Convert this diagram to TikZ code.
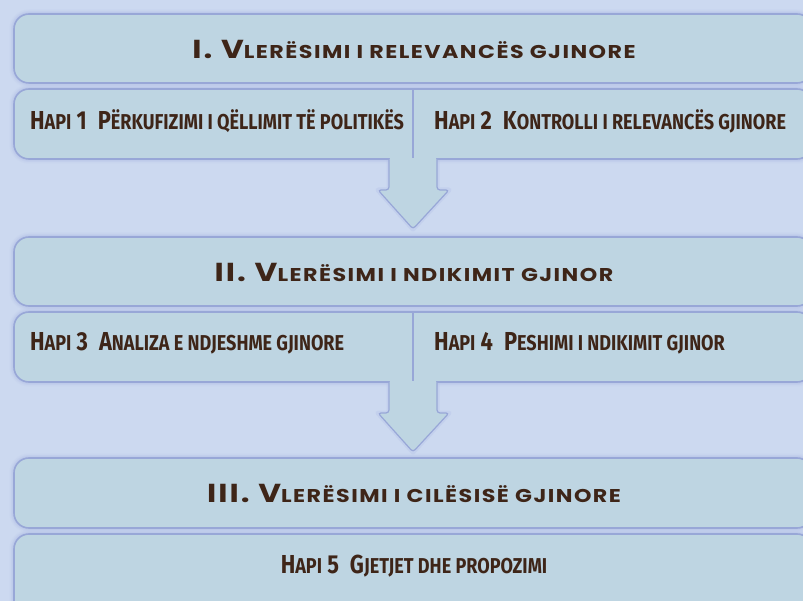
\documentclass[tikz,border=0pt]{standalone}
\usepackage{fontspec}
\newfontfamily\titlefont[FakeStretch=1.2,LetterSpace=8]{Poppins}
\newfontfamily\stepfont[FakeStretch=0.84]{Fira Sans}
\definecolor{bg}{HTML}{CCD9F0}
\definecolor{boxfill}{HTML}{BED5E2}
\definecolor{boxline}{HTML}{98A7D7}
\definecolor{glow}{HTML}{B4C1E8}
\definecolor{ink}{HTML}{3E2518}
\newcommand\tbig[1]{{\fontsize{26}{26}\selectfont #1}}
\newcommand\tsml[1]{{\fontsize{18.5}{18.5}\selectfont #1}}
\newcommand\sbig[1]{{\fontsize{26}{26}\selectfont #1}}
\newcommand\ssml[1]{{\fontsize{21.5}{21.5}\selectfont #1}}
\newcommand\ttl[2]{{\titlefont\bfseries\tbig{#1}\tsml{#2}}}
\newcommand\stp[3]{{\stepfont\bfseries\sbig{H}\ssml{API}\sbig{ #1}\hspace{11pt}\sbig{#2}\ssml{#3}}}
\tikzset{
  panel/.style={rounded corners=15pt, fill=boxfill, draw=boxline, line width=1.6pt},
  divider/.style={draw=boxline, line width=1.6pt},
  label/.style={text=ink, inner sep=0pt},
  blockarrow/.style={fill=boxfill, draw=boxline, line width=1.2pt, rounded corners=3pt},
}
\newcommand\glowpath[1]{%
  \foreach \w/\o in {9/0.15,6/0.25,3.5/0.4}{\draw[glow, line width=\w pt, opacity=\o, rounded corners=15pt] #1;}}
\begin{document}
\begin{tikzpicture}[x=1pt,y=-1pt]
\useasboundingbox (0,0) rectangle (803,601);
\fill[bg] (0,0) rectangle (803,601);
\clip (0,0) rectangle (803,601);
% glows
\glowpath{(14,14) rectangle (812,83)}
\glowpath{(14,89) rectangle (812,159)}
\glowpath{(14,237) rectangle (812,306)}
\glowpath{(14,312) rectangle (812,382)}
\glowpath{(14,458) rectangle (812,528)}
\glowpath{(14,534) rectangle (812,630)}
% panels
\draw[panel] (14,14) rectangle (812,83);
\draw[panel] (14,89) rectangle (812,159);
\draw[panel] (14,237) rectangle (812,306);
\draw[panel] (14,312) rectangle (812,382);
\draw[panel] (14,458) rectangle (812,528);
\draw[panel] (14,534) rectangle (812,630);
\coordinate (d1t) at (413,89); \coordinate (d1b) at (413,159);
\coordinate (d2t) at (413,312); \coordinate (d2b) at (413,382);
\draw[divider] (d1t) -- (d1b);
\draw[divider] (d2t) -- (d2b);
% arrows
\foreach \a/\yy in {1/159,2/382}{
  \begin{scope}[shift={(0,\yy)}]
  \draw[glow, line width=5pt, opacity=0.35, line join=round] (389,1) -- (389,31) -- (378,31) -- (413,70) -- (449,31) -- (437,31) -- (437,1);
  \draw[blockarrow] (389,0) -- (389,31) -- (378,31) -- (413,70) -- (449,31) -- (437,31) -- (437,0);
  \fill[boxfill] (390,-1) rectangle (436,3);
  \end{scope}
}
% texts
\node[label] (T1) at (414,49) {\ttl{I. V}{LERËSIMI I RELEVANCËS GJINORE}};
\node[label] (T2) at (414,272) {\ttl{II. V}{LERËSIMI I NDIKIMIT GJINOR}};
\node[label] (T3) at (414,493) {\ttl{III. V}{LERËSIMI I CILËSISË GJINORE}};
\node[label, anchor=west] (S1) at (30,121) {\stp{1}{P}{ËRKUFIZIMI I QËLLIMIT TË POLITIKËS}};
\node[label, anchor=west] (S2) at (434,121) {\stp{2}{K}{ONTROLLI I RELEVANCËS GJINORE}};
\node[label, anchor=west] (S3) at (30,343) {\stp{3}{A}{NALIZA E NDJESHME GJINORE}};
\node[label, anchor=west] (S4) at (434,343) {\stp{4}{P}{ESHIMI I NDIKIMIT GJINOR}};
\node[label] (S5) at (414,566) {\stp{5}{G}{JETJET DHE PROPOZIMI}};
\end{tikzpicture}
\end{document}
